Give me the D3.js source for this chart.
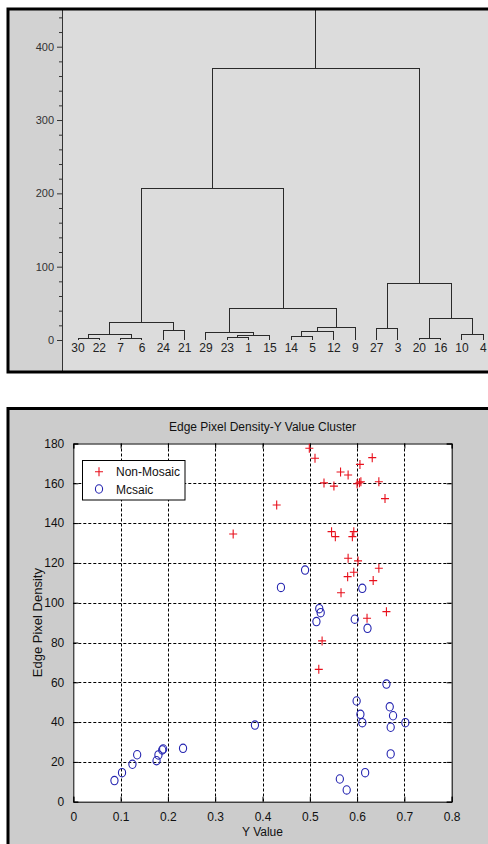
<!DOCTYPE html>
<html>
<head>
<meta charset="utf-8">
<script src="https://cdn.jsdelivr.net/npm/d3@7"></script>
<style>
    body { margin: 0; background: #ffffff; }
    svg { display: block; font-family: Arial, "Liberation Sans", sans-serif; }
</style>
</head>
<body>
<svg id="figure"></svg>
<script>
// Dendrogram leaves, left to right
const leafLabels = ["30", "22", "7", "6", "24", "21", "29", "23", "1", "15",
    "14", "5", "12", "9", "27", "3", "20", "16", "10", "4"];

// Merges: [left, right, height]; "mN" points to merge N
const merges = [
    ["30", "22", 1.8],    // m0
    ["7", "6", 1.8],      // m1
    ["m0", "m1", 7.7],    // m2
    ["24", "21", 12.7],   // m3
    ["m2", "m3", 24],     // m4
    ["23", "1", 3.6],     // m5
    ["m5", "15", 6.8],    // m6
    ["29", "m6", 9.6],    // m7
    ["14", "5", 4.5],     // m8
    ["m8", "12", 11.4],   // m9
    ["m9", "9", 17.3],    // m10
    ["m7", "m10", 43.2],  // m11
    ["m4", "m11", 206],   // m12
    ["27", "3", 15.9],    // m13
    ["20", "16", 1.4],    // m14
    ["10", "4", 7.7],     // m15
    ["m14", "m15", 29.5], // m16
    ["m13", "m16", 77.3], // m17
    ["m12", "m17", 370.9] // m18
];
// the last link keeps going above the visible range
const rootLinkHeight = 480;
const dendroTicks = [0, 100, 200, 300, 400];

// Scatter data
const nonMosaicX = [0.499, 0.511, 0.632, 0.606, 0.565, 0.581, 0.530, 0.551, 0.600, 0.605,
    0.608, 0.646, 0.659, 0.430, 0.338, 0.546, 0.554, 0.593, 0.590, 0.581,
    0.602, 0.646, 0.593, 0.580, 0.634, 0.566, 0.662, 0.621, 0.526, 0.519];
const nonMosaicY = [177.6, 172.6, 172.9, 169.5, 165.7, 164.2, 160.2, 158.6, 159.8, 160.3,
    160.8, 160.8, 152.3, 149.1, 134.5, 135.7, 133.2, 135.7, 133.2, 122.3,
    121.0, 117.3, 115.3, 113.1, 111.1, 105.0, 95.5, 92.2, 80.8, 66.5];
const mosaicX = [0.490, 0.439, 0.611, 0.520, 0.523, 0.514, 0.595, 0.622, 0.662, 0.599,
    0.669, 0.607, 0.676, 0.611, 0.702, 0.671, 0.384, 0.671, 0.617, 0.5635,
    0.578, 0.087, 0.103, 0.125, 0.135, 0.176, 0.180, 0.188, 0.190, 0.232];
const mosaicY = [116.4, 107.7, 107.2, 97.0, 95.0, 90.5, 91.7, 87.1, 59.1, 50.6,
    47.7, 43.9, 43.2, 39.7, 39.7, 37.4, 38.5, 24.0, 14.6, 11.4,
    5.9, 10.6, 14.6, 18.8, 23.6, 20.6, 23.5, 26.0, 26.5, 26.8];
const xTicks = [0, 0.1, 0.2, 0.3, 0.4, 0.5, 0.6, 0.7, 0.8];
const yTicks = [0, 20, 40, 60, 80, 100, 120, 140, 160, 180];

document.addEventListener('DOMContentLoaded', function () {
    const svg = d3.select('#figure')
        .attr("width", 488)
        .attr("height", 844);

    // ---------- Top panel: dendrogram ----------
    var top = { left: 8, top: 9, right: 492, bottom: 372, axis: 62 };

    const gTop = svg.append("g");

    gTop.append("rect")
        .attr("x", top.left).attr("y", top.top)
        .attr("width", top.right - top.left).attr("height", top.bottom - top.top)
        .attr("fill", "#d2d2d2");

    gTop.append("rect")
        .attr("x", top.axis).attr("y", top.top)
        .attr("width", top.right - top.axis).attr("height", top.bottom - top.top)
        .attr("fill", "#dcdcdc");

    const xLeaf = d3.scaleLinear()
        .domain([0, leafLabels.length - 1])
        .range([78, 483.3]);

    const yDist = d3.scaleLinear()
        .domain([0, 400])
        .range([340, 46.7]);

    gTop.append("clipPath").attr("id", "dendroClip")
        .append("rect")
        .attr("x", top.axis).attr("y", top.top)
        .attr("width", top.right - top.axis).attr("height", top.bottom - top.top);

    // positions of leaves and merges
    const pos = {};
    leafLabels.forEach((d, i) => { pos[d] = { x: xLeaf(i), h: 0 }; });
    merges.forEach((m, i) => {
        const a = pos[m[0]], b = pos[m[1]];
        pos["m" + i] = { x: (a.x + b.x) / 2, h: m[2], a: a, b: b };
    });

    const links = gTop.append("g")
        .attr("clip-path", "url(#dendroClip)")
        .attr("fill", "none")
        .attr("stroke", "#2a2a2a")
        .attr("stroke-width", 1)
        .attr("shape-rendering", "crispEdges");

    links.selectAll("path")
        .data(merges.map((m, i) => pos["m" + i]))
        .join("path")
        .attr("d", d => `M${d.a.x},${yDist(d.a.h)}V${yDist(d.h)}H${d.b.x}V${yDist(d.b.h)}`);

    const root = pos["m" + (merges.length - 1)];
    links.append("path")
        .attr("d", `M${root.x},${yDist(root.h)}V${yDist(rootLinkHeight)}`);

    // Y axis
    const yAxisTop = gTop.append("g")
        .attr("transform", `translate(${top.axis},0)`)
        .call(d3.axisLeft(yDist).tickValues(dendroTicks).tickSize(5).tickPadding(3));
    yAxisTop.select(".domain").remove();
    yAxisTop.selectAll("line").attr("stroke", "#333");
    yAxisTop.selectAll("text")
        .attr("fill", "#333")
        .attr("font-size", "11px")
        .attr("font-family", "Arial, 'Liberation Sans', sans-serif");

    gTop.append("g")
        .attr("stroke", "#333")
        .selectAll("line")
        .data(d3.range(0, 441, 20).filter(v => v % 100 !== 0))
        .join("line")
        .attr("x1", top.axis - 3).attr("x2", top.axis)
        .attr("y1", d => yDist(d) + 0.5).attr("y2", d => yDist(d) + 0.5);

    gTop.append("line")
        .attr("x1", top.axis + 0.5).attr("x2", top.axis + 0.5)
        .attr("y1", top.top).attr("y2", top.bottom)
        .attr("stroke", "#333");

    // leaf labels
    gTop.append("g")
        .selectAll("text")
        .data(leafLabels)
        .join("text")
        .attr("x", (d, i) => xLeaf(i))
        .attr("y", 352)
        .attr("text-anchor", "middle")
        .attr("font-size", "12px")
        .attr("fill", "#222")
        .text(d => d);

    // panel border
    gTop.append("path")
        .attr("d", `M${top.right},${top.top}H${top.left}V${top.bottom}H${top.right}`)
        .attr("fill", "none")
        .attr("stroke", "#000")
        .attr("stroke-width", 3);

    // ---------- Bottom panel: scatter ----------
    var fig = { left: 8, top: 408.5, right: 492, bottom: 850 };
    var plot = { left: 73.3, right: 451.7, top: 443.5, bottom: 801.7 };

    const gBot = svg.append("g");

    gBot.append("rect")
        .attr("x", fig.left).attr("y", fig.top)
        .attr("width", fig.right - fig.left).attr("height", fig.bottom - fig.top)
        .attr("fill", "#cccccc")
        .attr("stroke", "#000")
        .attr("stroke-width", 3);

    gBot.append("rect")
        .attr("x", plot.left).attr("y", plot.top)
        .attr("width", plot.right - plot.left).attr("height", plot.bottom - plot.top)
        .attr("fill", "#fff");

    const x = d3.scaleLinear().domain([0, 0.8]).range([plot.left, plot.right]);
    const y = d3.scaleLinear().domain([0, 180]).range([plot.bottom, plot.top]);

    // dotted grid
    const grid = gBot.append("g")
        .attr("stroke", "#000")
        .attr("stroke-width", 1)
        .attr("stroke-dasharray", "3,2");
    grid.selectAll(".gx")
        .data(xTicks.slice(1, -1))
        .join("line")
        .attr("class", "gx")
        .attr("x1", d => Math.round(x(d)) + 0.5).attr("x2", d => Math.round(x(d)) + 0.5)
        .attr("y1", plot.top).attr("y2", plot.bottom);
    grid.selectAll(".gy")
        .data(yTicks.slice(1, -1))
        .join("line")
        .attr("class", "gy")
        .attr("x1", plot.left).attr("x2", plot.right)
        .attr("y1", d => Math.round(y(d)) + 0.5).attr("y2", d => Math.round(y(d)) + 0.5);

    // axes with inward ticks on all sides
    const xAxis = gBot.append("g")
        .attr("transform", `translate(0,${plot.bottom})`)
        .call(d3.axisBottom(x).tickValues(xTicks).tickSize(-5).tickPadding(11)
            .tickFormat(d => d === 0 ? "0" : d3.format(".1f")(d)));
    const yAxis = gBot.append("g")
        .attr("transform", `translate(${plot.left},0)`)
        .call(d3.axisLeft(y).tickValues(yTicks).tickSize(-5).tickPadding(9));
    const xAxisTop = gBot.append("g")
        .attr("transform", `translate(0,${plot.top})`)
        .call(d3.axisTop(x).tickValues(xTicks).tickSize(-5).tickFormat(""));
    const yAxisRight = gBot.append("g")
        .attr("transform", `translate(${plot.right},0)`)
        .call(d3.axisRight(y).tickValues(yTicks).tickSize(-5).tickFormat(""));

    [xAxis, yAxis, xAxisTop, yAxisRight].forEach(a => {
        a.select(".domain").attr("stroke", "#000");
        a.selectAll("line").attr("stroke", "#000");
        a.selectAll("text")
            .attr("fill", "#111")
            .attr("font-size", "12px")
            .attr("font-family", "Arial, 'Liberation Sans', sans-serif");
    });

    // points
    gBot.append("g")
        .selectAll("path")
        .data(nonMosaicX.map((v, i) => [v, nonMosaicY[i]]))
        .join("path")
        .attr("d", d => `M${x(d[0]) - 4},${y(d[1])}h8M${x(d[0])},${y(d[1]) - 4.5}v9`)
        .attr("stroke", "#e8101c")
        .attr("stroke-width", 1.1)
        .attr("fill", "none");

    gBot.append("g")
        .selectAll("ellipse")
        .data(mosaicX.map((v, i) => [v, mosaicY[i]]))
        .join("ellipse")
        .attr("cx", d => x(d[0]))
        .attr("cy", d => y(d[1]))
        .attr("rx", 3.6)
        .attr("ry", 4.2)
        .attr("fill", "none")
        .attr("stroke", "#2424b0")
        .attr("stroke-width", 1.1);

    // legend
    const legend = gBot.append("g");
    legend.append("rect")
        .attr("x", 82.5).attr("y", 460.5)
        .attr("width", 102.5).attr("height", 39.5)
        .attr("fill", "#fff")
        .attr("stroke", "#000");
    legend.append("path")
        .attr("d", "M95,471.7h8M99,467.2v9")
        .attr("stroke", "#e8101c").attr("stroke-width", 1.1);
    legend.append("ellipse")
        .attr("cx", 99).attr("cy", 489).attr("rx", 3.6).attr("ry", 4.2)
        .attr("fill", "none").attr("stroke", "#2424b0").attr("stroke-width", 1.1);
    legend.append("text").attr("x", 116).attr("y", 476)
        .attr("font-size", "12px").attr("fill", "#111").text("Non-Mosaic");
    legend.append("text").attr("x", 116).attr("y", 493.5)
        .attr("font-size", "12px").attr("fill", "#111").text("Mcsaic");

    // title and axis labels
    gBot.append("text")
        .attr("x", (plot.left + plot.right) / 2)
        .attr("y", 431)
        .attr("text-anchor", "middle")
        .attr("font-size", "12px")
        .attr("fill", "#111")
        .text("Edge Pixel Density-Y Value Cluster");

    gBot.append("text")
        .attr("x", (plot.left + plot.right) / 2)
        .attr("y", 836)
        .attr("text-anchor", "middle")
        .attr("font-size", "12px")
        .attr("fill", "#111")
        .text("Y Value");

    gBot.append("text")
        .attr("transform", `translate(42,${(plot.top + plot.bottom) / 2}) rotate(-90)`)
        .attr("text-anchor", "middle")
        .attr("font-size", "13px")
        .attr("fill", "#111")
        .text("Edge Pixel Density");
});
</script>
</body>
</html>
